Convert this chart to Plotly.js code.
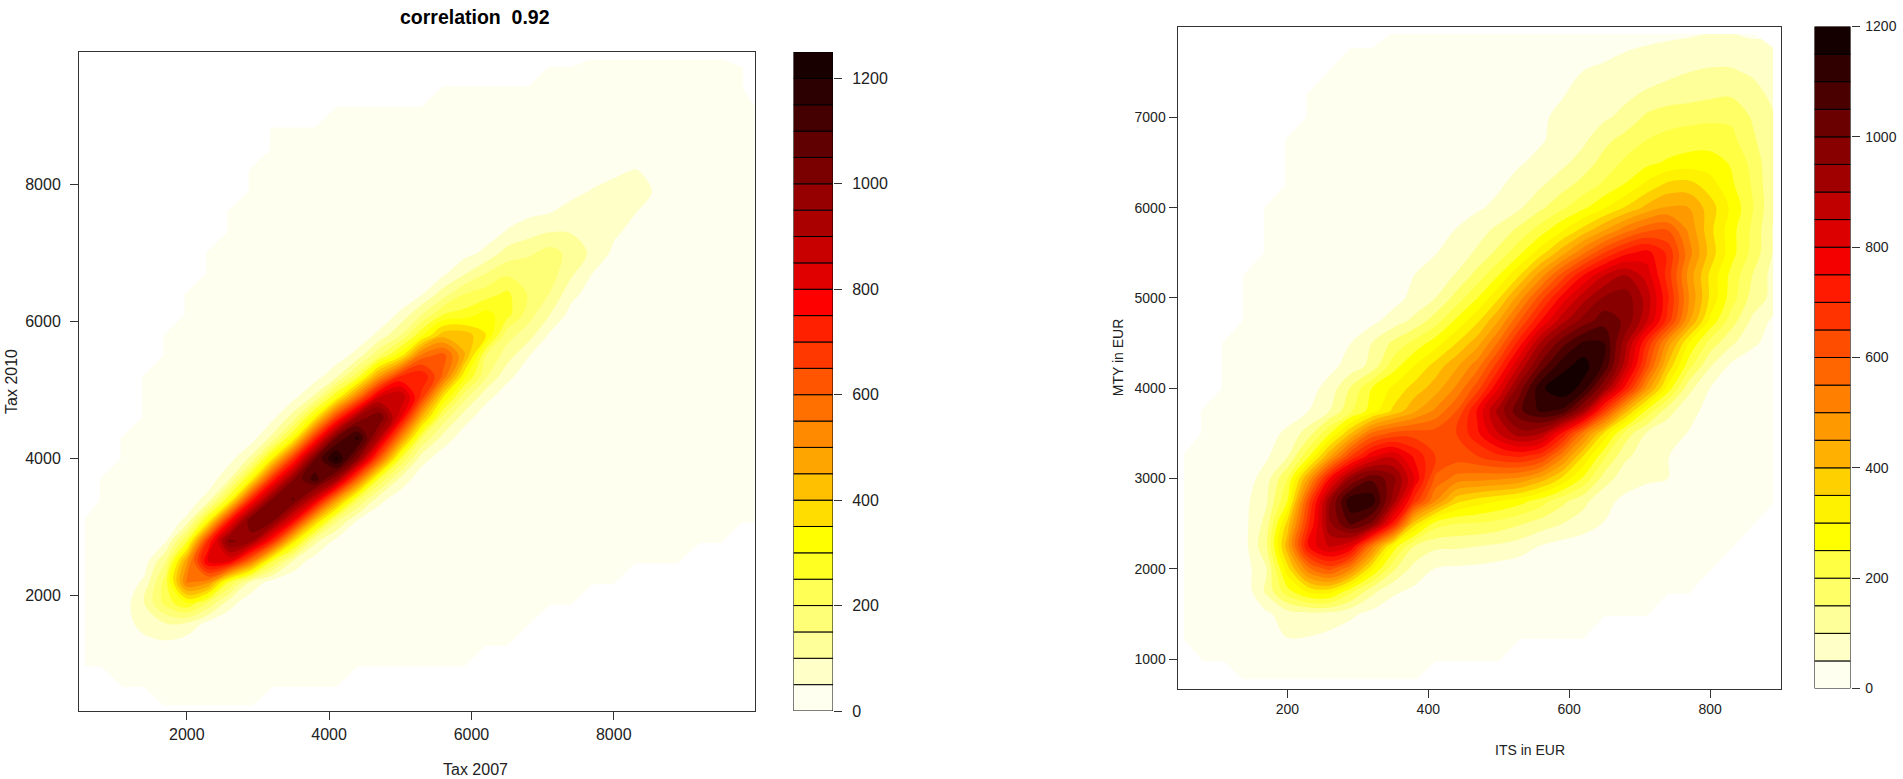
<!DOCTYPE html>
<html><head><meta charset="utf-8">
<script src="https://cdn.plot.ly/plotly-3.0.1.min.js"></script>
<style>html,body{margin:0;padding:0;background:#fff;overflow:hidden}#c{width:1903px;height:779px}</style>
</head><body><div id="c"></div>
<script>
const leftX=[570,800,1100,1400,1700,2000,2300,2600,2900,3200,3500,3800,4100,4400,4700,5000,5300,5600,5900,6200,6500,6800,7100,7400,7700,8000,8300,8600,8900,9200,9500,9800,9980];
const leftY=[400,700,1000,1300,1600,1900,2200,2500,2800,3100,3400,3700,4000,4300,4600,4900,5200,5500,5800,6100,6400,6700,7000,7300,7600,7900,8200,8500,8800,9100,9400,9700,9820];
const leftStart=[2,2,1,1,0,0,0,0,0,1,1,1,1,2,2,2,2,2,2,3,3,4,5,5,6,6,7,7,7,8,8,9,9];
const leftColumns=[
[10,10,10,10,10,10,10,10],
[12,12,12,12,10,10,10,10,10,10],
[10,14,24,30,20,14,10,10,10,10,10,10,10],
[10,19,35,68,100,60,24,12,10,10,10,10,10,10,10,10],
[10,10,12,40,100,219,225,150,42,14,10,10,10,10,10,10,10,10,10],
[10,10,10,20,95,300,560,490,250,62,12,10,10,10,10,10,10,10,10,10,10],
[10,10,10,12,32,200,520,810,700,315,75,15,10,10,10,10,10,10,10,10,10,10,10],
[10,10,10,10,15,70,250,800,1016,740,295,100,30,12,10,10,10,10,10,10,10,10,10,10,10],
[10,10,10,10,10,16,90,560,965,1048,720,320,112,25,12,10,10,10,10,10,10,10,10,10,10,10,10],
[10,10,10,10,12,28,250,720,1027,1015,710,350,115,35,12,10,10,10,10,10,10,10,10,10,10,10,10,10],
[10,10,10,10,10,12,85,370,790,1056,999,695,315,125,35,12,10,10,10,10,10,10,10,10,10,10,10,10],
[10,10,10,10,10,10,22,115,430,845,1127,1045,700,340,110,28,12,10,10,10,10,10,10,10,10,10,10,10],
[10,10,10,10,10,10,10,34,165,505,960,1217,1049,670,300,88,22,10,10,10,10,10,10,10,10,10,10,10,10],
[10,10,10,10,10,10,10,48,215,595,1000,1168,959,560,232,70,16,10,10,10,10,10,10,10,10,10,10,10],
[10,10,10,10,10,10,10,12,66,245,620,910,1053,847,490,195,62,14,10,10,10,10,10,10,10,10,10,10],
[10,10,10,10,10,10,10,10,18,85,255,540,815,900,701,330,150,60,14,10,10,10,10,10,10,10,10,10],
[10,10,10,10,10,10,10,10,10,18,70,205,445,680,745,575,290,150,46,14,10,10,10,10,10,10,10,10],
[10,10,10,10,10,10,10,10,10,10,22,78,185,355,590,625,430,250,125,40,18,10,10,10,10,10,10,10,10],
[10,10,10,10,10,10,10,10,10,10,12,24,70,170,315,455,430,270,200,95,32,14,10,10,10,10,10,10,10],
[10,10,10,10,10,10,10,10,10,10,12,24,64,160,200,355,320,225,150,62,24,12,10,10,10,10,10,10],
[10,10,10,10,10,10,10,10,10,10,10,12,26,62,125,170,270,262,190,120,55,22,12,10,10,10,10,10],
[10,10,10,10,10,10,10,10,10,10,10,11,26,52,122,172,195,192,140,82,36,14,10,10,10,10,10],
[10,10,10,10,10,10,10,10,10,10,10,10,14,42,100,148,175,170,100,46,18,11,10,10,10,10,10],
[10,10,10,10,10,10,10,10,10,10,10,10,10,14,32,66,110,135,98,70,34,12,10,10,10,10,10],
[10,10,10,10,10,10,10,10,10,10,10,10,10,14,26,50,88,92,68,54,24,12,10,10,10,10,10],
[10,10,10,10,10,10,10,10,10,10,10,10,10,10,12,22,40,58,66,60,44,14,10,10,10,10,10],
[10,10,10,10,10,10,10,10,10,10,10,10,10,10,12,20,35,52,65,52,24,12,10,10,10,10],
[10,10,10,10,10,10,10,10,10,10,10,10,10,10,10,12,18,30,46,40,26,12,10,10,10,10],
[10,10,10,10,10,10,10,10,10,10,10,10,10,10,10,10,14,20,25,22,14,10,10,10,10,10],
[10,10,10,10,10,10,10,10,10,10,10,10,10,10,10,10,10,10,10,10,10,10,10,10,10],
[10,10,10,10,10,10,10,10,10,10,10,10,10,10,10,10,10,10,10,10,10,10,10,10,10],
[10,10,10,10,10,10,10,10,10,10,10,10,10,10,10,10,10,10,10,10,10,10,10],
[10,10,10,10,10,10,10,10,10,10,10,10,10,10,10,10,10,10,10,10,10]
];
const rightX=[53,80,110,140,170,200,230,260,290,320,350,380,410,440,470,500,530,560,590,620,650,680,710,740,770,800,830,860,890];
const rightY=[775,1000,1250,1500,1750,2000,2250,2500,2750,3000,3250,3500,3750,4000,4250,4500,4750,5000,5250,5500,5750,6000,6250,6500,6750,7000,7250,7500,7750,7924];
const rightStart=[3,1,0,0,0,0,0,0,0,0,0,1,1,2,2,2,3,3,3,4,4,4,5,5,5,6,6,7,8,10];
const rightRows=[
[10,10,10,10,10,10,10,10,10],
[10,10,10,10,10,10,10,10,10,10,10,10,10,10,10],
[10,10,10,12,38,52,50,38,22,12,10,10,10,10,10,10,10,10,10,10],
[10,10,10,14,40,75,85,80,60,35,22,15,12,10,10,10,10,10,10,10,10,10,10],
[10,10,14,20,110,230,310,320,215,115,58,40,25,16,12,10,10,10,10,10,10,10,10,10,10],
[10,10,20,30,95,330,540,620,510,310,160,80,48,42,38,30,20,14,10,10,10,10,10,10,10,10],
[10,10,22,36,140,430,760,860,800,530,280,150,110,108,100,90,75,47,30,20,12,10,10,10,10,10,10],
[10,12,20,38,118,370,690,940,1060,990,730,370,225,200,195,180,155,125,100,76,48,30,20,12,10,10,10,10],
[10,10,14,38,92,250,630,940,1140,1130,930,680,500,365,325,300,270,225,165,115,62,40,25,15,10,10,10,10,10],
[10,10,12,24,75,200,460,750,950,1040,970,800,590,530,520,510,490,430,340,240,125,70,58,50,30,14,10,10,10],
[10,10,12,18,42,95,240,440,650,790,840,740,650,630,650,690,710,670,520,350,210,110,75,52,24,12,10,10,10],
[10,10,12,28,62,125,245,400,560,615,625,625,650,740,850,930,900,740,530,340,180,95,65,48,22,12,10,10],
[10,10,10,12,20,50,100,190,275,360,440,510,600,760,920,1040,1110,1090,930,660,420,240,120,62,38,22,12,10],
[10,10,12,16,30,70,155,250,310,370,425,510,630,800,980,1140,1190,1130,950,730,480,280,115,50,28,15,10],
[10,10,10,14,22,35,70,115,225,300,370,440,530,680,860,1020,1130,1175,1090,870,630,390,220,105,40,18,10],
[10,10,10,12,18,28,50,100,160,215,275,350,430,560,730,910,1030,1110,1100,920,700,480,300,180,110,60,30],
[10,10,10,14,18,24,35,72,112,175,260,340,450,600,750,880,970,1030,990,860,680,460,290,175,90,40],
[10,10,10,10,12,16,22,30,65,100,170,250,345,480,630,770,880,960,980,880,710,500,340,225,130,85],
[10,10,10,10,12,16,22,32,50,70,105,170,250,350,480,620,750,850,900,830,680,480,340,235,150,80],
[10,10,10,10,12,18,26,35,48,70,110,165,240,330,430,540,650,735,770,690,520,380,270,185,95],
[10,10,10,10,10,14,20,28,36,52,78,115,165,225,295,370,450,530,590,600,490,365,270,190,95],
[10,10,10,10,10,10,14,18,24,30,44,62,94,140,190,240,295,355,415,455,450,375,290,205,105],
[10,10,10,10,10,10,14,18,24,32,44,68,95,130,170,210,255,315,365,370,325,260,195,105],
[10,10,10,10,10,10,10,12,16,20,30,46,62,88,122,170,210,235,258,272,272,245,185,105],
[10,10,10,10,10,10,10,10,10,14,18,26,46,65,90,135,170,200,215,225,228,215,160,108],
[10,10,10,10,10,10,10,10,14,20,28,45,58,75,92,115,160,180,185,190,190,145,105],
[10,10,10,10,10,10,10,10,10,14,18,25,48,62,75,90,108,122,130,140,145,125,85],
[10,10,10,10,10,10,10,10,10,14,20,30,52,60,68,76,88,100,108,108,92,60],
[10,10,10,10,10,10,10,10,10,12,16,22,38,48,55,62,68,70,70,68,55],
[10,10,10,10,10,10,10,10,14,16,22,30,36,40,44,52,52,42]
];
const leftColors=['#FFFFF0','#FFFFC8','#FFFF99','#FFFF77','#FFFF55','#FFFF22','#FFFF00','#FFDD00','#FFC000','#FFA500','#FF8A00','#FF7000','#FF5500','#FF3800','#FF2000','#FF0000','#E00000','#C80000','#AA0000','#960000','#7A0000','#600000','#440000','#2C0000','#180000'];
const rightColors=['#FFFFF0','#FFFFC8','#FFFF99','#FFFF66','#FFFF44','#FFFF00','#FFF200','#FFD000','#FFB000','#FF9900','#FF8000','#FF6600','#FF4D00','#FF3300','#FF1A00','#F50000','#DD0000','#C00000','#A00000','#880000','#6B0000','#4B0000','#300000','#150000'];
const leftTicks=[2000,4000,6000,8000];
const leftBarTicks=[0,200,400,600,800,1000,1200];
const rightXTicks=[200,400,600,800];
const rightYTicks=[1000,2000,3000,4000,5000,6000,7000];
const rightBarTicks=[0,200,400,600,800,1000,1200];

const W=1903,H=779;
const fx=(a,b)=>[a/W,b/W], fy=(t,b)=>[1-b/H,1-t/H];
function pad(start,arr,n){const o=new Array(n).fill(null);arr.forEach((v,i)=>{o[start+i]=v;});return o;}
const zLeftCols=leftColumns.map((c,i)=>pad(leftStart[i],c,leftY.length));
const zLeft=leftY.map((_,j)=>zLeftCols.map(c=>c[j]));
const zRight=rightRows.map((r,j)=>pad(rightStart[j],r,rightX.length));
const scale=cs=>cs.map((c,i)=>[i/(cs.length-1),c]);
const contour=(x,y,z,cs,end,xa,ya)=>({type:'contour',x,y,z,xaxis:xa,yaxis:ya,autocontour:false,connectgaps:false,
  contours:{start:50,end:end,size:50,coloring:'fill',showlines:false},line:{width:0,smoothing:1},colorscale:scale(cs),showscale:false,hoverinfo:'skip'});
const levels=cs=>cs.map((_,i)=>i*50);
const strip=(cs,xa,ya)=>({type:'bar',x:cs.map(()=>0),y:cs.map(()=>50),base:levels(cs),width:1,xaxis:xa,yaxis:ya,
  marker:{color:cs,line:{color:'#000',width:1}},showlegend:false,hoverinfo:'skip'});
const txt='#222';
const fam='Liberation Sans, Arial, sans-serif';
const axis=(domain,range,tickvals,size,anchor,extra)=>Object.assign({domain,range,tickvals,anchor,ticks:'outside',ticklen:8,tickcolor:'#333',tickwidth:1,
  showline:true,linecolor:'#333',linewidth:1,mirror:true,showgrid:false,zeroline:false,tickfont:{family:fam,size,color:txt}},extra||{});
const hidden=(domain,anchor)=>({domain,anchor,range:[-0.5,0.5],visible:false,fixedrange:true});

const ldY=fy(52,711), rdY=fy(26.5,688.5);
const layout={width:W,height:H,margin:{l:0,r:0,t:0,b:0},paper_bgcolor:'#fff',plot_bgcolor:'#fff',showlegend:false,barmode:'overlay',
  xaxis:axis(fx(79,755),[485,9985],leftTicks,16,'y',{ticklabelstandoff:1}),
  yaxis:axis(ldY,[320,9930],leftTicks,16,'x',{ticklabelstandoff:6,title:{text:'Tax 2010',font:{family:fam,size:16,color:txt},standoff:3}}),
  xaxis2:hidden(fx(793.5,833),'y2'),
  yaxis2:axis(ldY,[0,1250],leftBarTicks,16,'x2',{side:'right',mirror:false,showline:false,ticklabelstandoff:7}),
  xaxis3:axis(fx(1177.5,1780.5),[44,900],rightXTicks,14,'y3'),
  yaxis3:axis(rdY,[675,8006],rightYTicks,14,'x3',{title:{text:'MTY in EUR',font:{family:fam,size:14,color:txt},standoff:7}}),
  xaxis4:hidden(fx(1814.5,1850.5),'y4'),
  yaxis4:axis(rdY,[0,1200],rightBarTicks,14,'x4',{side:'right',mirror:false,showline:false,ticklabelstandoff:3}),
  annotations:[
    {text:'<b>correlation  0.92</b>',xref:'paper',yref:'paper',x:475/W,y:1-17.5/H,xanchor:'center',yanchor:'middle',showarrow:false,font:{family:fam,size:19.5,color:'#000'}},
    {text:'Tax 2007',xref:'paper',yref:'paper',x:475/W,y:1-769/H,xanchor:'center',yanchor:'middle',showarrow:false,font:{family:fam,size:16,color:txt}},
    {text:'ITS in EUR',xref:'paper',yref:'paper',x:1530/W,y:1-750/H,xanchor:'center',yanchor:'middle',showarrow:false,font:{family:fam,size:14,color:txt}}
  ]};
const data=[
  contour(leftX,leftY,zLeft,leftColors,1200,'x','y'),
  strip(leftColors,'x2','y2'),
  contour(rightX,rightY,zRight,rightColors,1150,'x3','y3'),
  strip(rightColors,'x4','y4')
];
Plotly.newPlot('c',data,layout,{displayModeBar:false,staticPlot:true});
</script></body></html>
